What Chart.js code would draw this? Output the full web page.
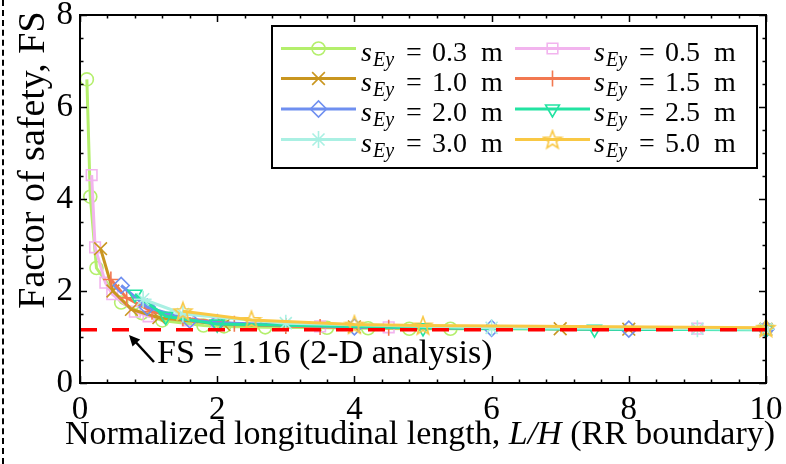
<!DOCTYPE html>
<html>
<head>
<meta charset="utf-8">
<script src="https://cdn.jsdelivr.net/npm/chart.js@4.4.0/dist/chart.umd.min.js"></script>
<style>
  html, body { margin: 0; padding: 0; background: #fff; }
  #wrap { position: relative; width: 786px; height: 464px; }
  #cut { position: absolute; left: 2px; top: 0; height: 464px; border-left: 2px dashed #000; }
  canvas { position: absolute; left: 0; top: 0; }
</style>
</head>
<body>
<div id="wrap"><div id="cut"></div><canvas id="myChart" width="786" height="464"></canvas></div>
<script>
// spacing of the series (s_Ey, m)
const spacings = ['0.3', '0.5', '1.0', '1.5', '2.0', '2.5', '3.0', '5.0'];

// L/H and FS, one pair per series
const lh03 = [0.10, 0.15, 0.24, 0.60, 0.90, 1.20, 1.80, 2.10, 2.70, 3.60, 4.20, 4.80, 5.40, 10];
const fs03 = [6.60, 4.05, 2.50, 1.75, 1.52, 1.36, 1.25, 1.23, 1.21, 1.20, 1.19, 1.18, 1.18, 1.17];
const lh05 = [0.17, 0.22, 0.37, 0.47, 0.80, 1.00, 1.57, 2.00, 3.50, 4.50, 9.00, 10];
const fs05 = [4.52, 2.95, 2.18, 1.93, 1.55, 1.45, 1.36, 1.29, 1.23, 1.21, 1.18, 1.17];
const lh10 = [0.30, 0.48, 0.75, 1.15, 2.10, 4.00, 7.00, 8.00, 10];
const fs10 = [2.92, 2.00, 1.60, 1.42, 1.27, 1.22, 1.18, 1.17, 1.17];
const lh15 = [0.45, 0.68, 1.05, 1.50, 2.25, 3.00, 3.50, 4.50, 10];
const fs15 = [2.25, 1.85, 1.55, 1.41, 1.29, 1.24, 1.22, 1.20, 1.17];
const lh20 = [0.60, 0.98, 1.60, 2.00, 4.00, 6.00, 8.00, 10];
const fs20 = [2.12, 1.65, 1.37, 1.31, 1.22, 1.19, 1.17, 1.17];
const lh25 = [0.80, 1.25, 2.00, 5.00, 7.50, 10];
const fs25 = [1.93, 1.45, 1.28, 1.20, 1.17, 1.16];
const lh30 = [0.92, 1.50, 3.00, 6.00, 9.00, 10];
const fs30 = [1.82, 1.50, 1.30, 1.20, 1.18, 1.17];
const lh50 = [1.50, 2.50, 4.00, 5.00, 10];
const fs50 = [1.56, 1.37, 1.27, 1.25, 1.20];

const fs2D = 1.16;
const xTicks = [0, 2, 4, 6, 8, 10];
const yTicks = [0, 2, 4, 6, 8];

const allLH = [lh03, lh05, lh10, lh15, lh20, lh25, lh30, lh50];
const allFS = [fs03, fs05, fs10, fs15, fs20, fs25, fs30, fs50];
const colors = ['#b4ef6c', '#f2b4ee', '#c9961f', '#f27850', '#6f8ff0', '#22e3a2', '#aaf0e3', '#f9c844'];

const SERIF = '"Liberation Serif", "Times New Roman", serif';

function starImg(color) {
  const c = document.createElement('canvas');
  c.width = 22; c.height = 22;
  const g = c.getContext('2d');
  g.strokeStyle = color; g.lineWidth = 1.6;
  g.beginPath();
  for (let i = 0; i < 10; i++) {
    const r = i % 2 ? 4 : 9.5;
    const a = -Math.PI / 2 + i * Math.PI / 5;
    g.lineTo(11 + r * Math.cos(a), 11.8 + r * Math.sin(a));
  }
  g.closePath(); g.stroke();
  return c;
}

const markers = [
  { pointStyle: 'circle', radius: 6.5, rotation: 0 },
  { pointStyle: 'rect', radius: 7.5, rotation: 0 },
  { pointStyle: 'crossRot', radius: 9, rotation: 0 },
  { pointStyle: 'cross', radius: 8, rotation: 0 },
  { pointStyle: 'rectRot', radius: 8, rotation: 0 },
  { pointStyle: 'triangle', radius: 8, rotation: 180 },
  { pointStyle: 'star', radius: 8.5, rotation: 0 },
  { pointStyle: starImg(colors[7]), radius: 9, rotation: 0 }
];

const datasets = spacings.map((s, i) => ({
  label: 's_Ey = ' + s + ' m',
  data: allLH[i].map((x, j) => ({ x: x, y: allFS[i][j] })),
  showLine: true,
  borderColor: colors[i],
  borderWidth: 3,
  pointStyle: markers[i].pointStyle,
  pointRadius: markers[i].radius,
  pointRotation: markers[i].rotation,
  pointBorderWidth: 1.6,
  pointBorderColor: colors[i],
  pointBackgroundColor: 'rgba(0,0,0,0)',
  order: 9 - i,
  clip: false
}));

datasets.push({
  label: 'FS 2-D',
  data: [{ x: 0, y: fs2D }, { x: 10, y: fs2D }],
  showLine: true,
  borderColor: '#ff0000',
  borderWidth: 3.5,
  borderDash: [17, 15],
  pointRadius: 0,
  order: 0
});

// frame, inward ticks, titles, annotation and the two-column legend
const extras = {
  id: 'extras',
  afterDraw(chart) {
    const ctx = chart.ctx;
    const a = chart.chartArea;
    const x = chart.scales.x, y = chart.scales.y;
    ctx.save();
    ctx.strokeStyle = '#000';
    ctx.lineWidth = 1.5;
    for (let i = 0; i <= 25; i++) {
      const px = Math.round(x.getPixelForValue(i * 0.4)) + 0.5;
      const len = i % 5 === 0 ? 7 : 3.5;
      ctx.beginPath();
      ctx.moveTo(px, a.bottom); ctx.lineTo(px, a.bottom - len);
      ctx.moveTo(px, a.top); ctx.lineTo(px, a.top + len);
      ctx.stroke();
    }
    for (let i = 0; i <= 16; i++) {
      const py = Math.round(y.getPixelForValue(i * 0.5)) + 0.5;
      const len = i % 4 === 0 ? 7 : 3.5;
      ctx.beginPath();
      ctx.moveTo(a.left, py); ctx.lineTo(a.left + len, py);
      ctx.moveTo(a.right, py); ctx.lineTo(a.right - len, py);
      ctx.stroke();
    }
    ctx.lineWidth = 2;
    ctx.strokeRect(a.left, a.top, a.right - a.left, a.bottom - a.top);

    // annotation with arrow
    ctx.fillStyle = '#000';
    ctx.font = '34px ' + SERIF;
    ctx.textAlign = 'left';
    ctx.textBaseline = 'alphabetic';
    ctx.fillText('FS = 1.16 (2-D analysis)', 157, 363);
    const tipX = 129, tipY = 335, tailX = 154, tailY = 362;
    ctx.lineWidth = 2.5;
    ctx.beginPath(); ctx.moveTo(tailX, tailY); ctx.lineTo(tipX + 3, tipY + 3); ctx.stroke();
    const ang = Math.atan2(tipY - tailY, tipX - tailX);
    ctx.beginPath();
    ctx.moveTo(tipX, tipY);
    ctx.lineTo(tipX - 12 * Math.cos(ang - 0.45), tipY - 12 * Math.sin(ang - 0.45));
    ctx.lineTo(tipX - 12 * Math.cos(ang + 0.45), tipY - 12 * Math.sin(ang + 0.45));
    ctx.closePath(); ctx.fill();

    // x title
    const p1 = 'Normalized longitudinal length, ', p2 = 'L/H', p3 = ' (RR boundary)';
    const tf = '34px ' + SERIF, tfi = 'italic 34px ' + SERIF;
    ctx.font = tf;
    const w1 = ctx.measureText(p1).width, w3 = ctx.measureText(p3).width;
    ctx.font = tfi;
    const w2 = ctx.measureText(p2).width;
    let tx = (a.left + a.right) / 2 - 3 - (w1 + w2 + w3) / 2;
    ctx.font = tf; ctx.fillText(p1, tx, 444); tx += w1;
    ctx.font = tfi; ctx.fillText(p2, tx, 444); tx += w2;
    ctx.font = tf; ctx.fillText(p3, tx, 444);

    // y title
    ctx.save();
    ctx.translate(44, 160);
    ctx.rotate(-Math.PI / 2);
    ctx.textAlign = 'center';
    ctx.font = '38px ' + SERIF;
    ctx.fillText('Factor of safety, FS', 0, 0);
    ctx.restore();

    // legend
    ctx.fillStyle = '#fff';
    ctx.fillRect(272, 26, 485, 142);
    ctx.lineWidth = 2; ctx.strokeStyle = '#000';
    ctx.strokeRect(272, 26, 485, 142);
    const rowY = [48.5, 78.5, 109, 139.5];
    const cols = [{ l0: 281, l1: 356, t: 361 }, { l0: 515, l1: 590, t: 594 }];
    spacings.forEach((s, i) => {
      const r = Math.floor(i / 2), c = cols[i % 2];
      const ly = rowY[r];
      ctx.strokeStyle = colors[i]; ctx.lineWidth = 3;
      ctx.beginPath(); ctx.moveTo(c.l0, ly); ctx.lineTo(c.l1, ly); ctx.stroke();
      ctx.lineWidth = 1.6;
      ctx.fillStyle = 'rgba(0,0,0,0)';
      if (Chart.helpers && Chart.helpers.drawPoint) {
        Chart.helpers.drawPoint(ctx, { pointStyle: markers[i].pointStyle, rotation: markers[i].rotation,
          radius: markers[i].radius, borderWidth: 1.6 }, (c.l0 + c.l1) / 2, ly);
      }
      const bl = ly + 12;
      ctx.fillStyle = '#000';
      ctx.textAlign = 'left';
      ctx.font = 'italic 28px ' + SERIF; ctx.fillText('s', c.t, bl);
      ctx.font = 'italic 20px ' + SERIF; ctx.fillText('Ey', c.t + 12, bl + 5);
      ctx.font = '28px ' + SERIF;
      ctx.fillText('=', c.t + 45, bl);
      ctx.fillText(s, c.t + 71, bl);
      ctx.fillText('m', c.t + 120, bl);
    });
    ctx.restore();
  }
};

const tickFont = { family: SERIF, size: 33 };

new Chart(document.getElementById('myChart'), {
  type: 'scatter',
  data: { datasets: datasets },
  options: {
    responsive: false,
    animation: false,
    layout: { padding: { top: 15, right: 20, left: 0, bottom: 0 } },
    plugins: { legend: { display: false }, tooltip: { enabled: false } },
    elements: { line: { tension: 0 } },
    scales: {
      x: {
        type: 'linear', min: 0, max: 10,
        afterBuildTicks: (s) => { s.ticks = xTicks.map(v => ({ value: v })); },
        afterFit: (s) => { s.height = 81; s.paddingLeft = 0; s.paddingRight = 0; },
        grid: { display: false, drawTicks: false },
        border: { display: false },
        ticks: { font: tickFont, color: '#000', padding: 8, maxRotation: 0, autoSkip: false }
      },
      y: {
        type: 'linear', min: 0, max: 8,
        afterBuildTicks: (s) => { s.ticks = yTicks.map(v => ({ value: v })); },
        afterFit: (s) => { s.width = 80; s.paddingTop = 0; s.paddingBottom = 0; },
        grid: { display: false, drawTicks: false },
        border: { display: false },
        ticks: { font: tickFont, color: '#000', padding: 7, autoSkip: false }
      }
    }
  },
  plugins: [extras]
});
</script>
</body>
</html>
